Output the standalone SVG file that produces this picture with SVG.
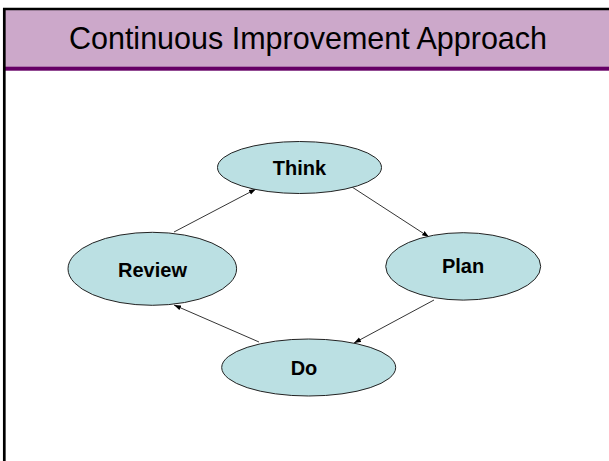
<svg xmlns="http://www.w3.org/2000/svg" width="609" height="461" viewBox="0 0 609 461">
<style>
.node ellipse{fill:#BBE0E3;stroke:#222;stroke-width:1}
.node text{font-family:"Liberation Sans",Arial,sans-serif;font-weight:bold;font-size:20px;fill:#000;text-anchor:middle}
.conn line{stroke:#000;stroke-width:0.8;marker-end:url(#ah)}
</style>
<defs>
<marker id="ah" markerWidth="8" markerHeight="6" refX="7" refY="3" orient="auto" markerUnits="userSpaceOnUse">
<path d="M0,0.5 L7,3 L0,5.5 Z" fill="#000"/>
</marker>
</defs>
<rect x="0" y="0" width="609" height="461" fill="#fff"/>
<g id="header">
<rect x="4" y="9" width="605" height="58" fill="#CCA8CA"/>
<rect x="4" y="66.7" width="605" height="4" fill="#660066"/>
<line x1="3" y1="9" x2="609" y2="9" stroke="#000" stroke-width="2.4"/>
<line x1="4.3" y1="8" x2="4.3" y2="461" stroke="#000" stroke-width="2.7"/>
<text x="308" y="49" font-family="Liberation Sans,Arial,sans-serif" font-size="30.5" text-anchor="middle" fill="#000">Continuous Improvement Approach</text>
</g>
<g id="connectors" class="conn">
<line x1="174" y1="232" x2="256" y2="189"/>
<line x1="352" y1="187" x2="429" y2="237"/>
<line x1="434" y1="300" x2="354" y2="343"/>
<line x1="259" y1="342" x2="174" y2="305"/>
</g>
<g id="think" class="node">
<ellipse cx="299.5" cy="167.5" rx="82" ry="26"/>
<text x="299.5" y="175">Think</text>
</g>
<g id="review" class="node">
<ellipse cx="152.3" cy="268.8" rx="84.3" ry="36.5"/>
<text x="152.5" y="276.7">Review</text>
</g>
<g id="plan" class="node">
<ellipse cx="463.2" cy="266.4" rx="77.5" ry="33.7"/>
<text x="463" y="273.3">Plan</text>
</g>
<g id="do" class="node">
<ellipse cx="308.7" cy="367.5" rx="87" ry="28.5"/>
<text x="304" y="375">Do</text>
</g>
</svg>
